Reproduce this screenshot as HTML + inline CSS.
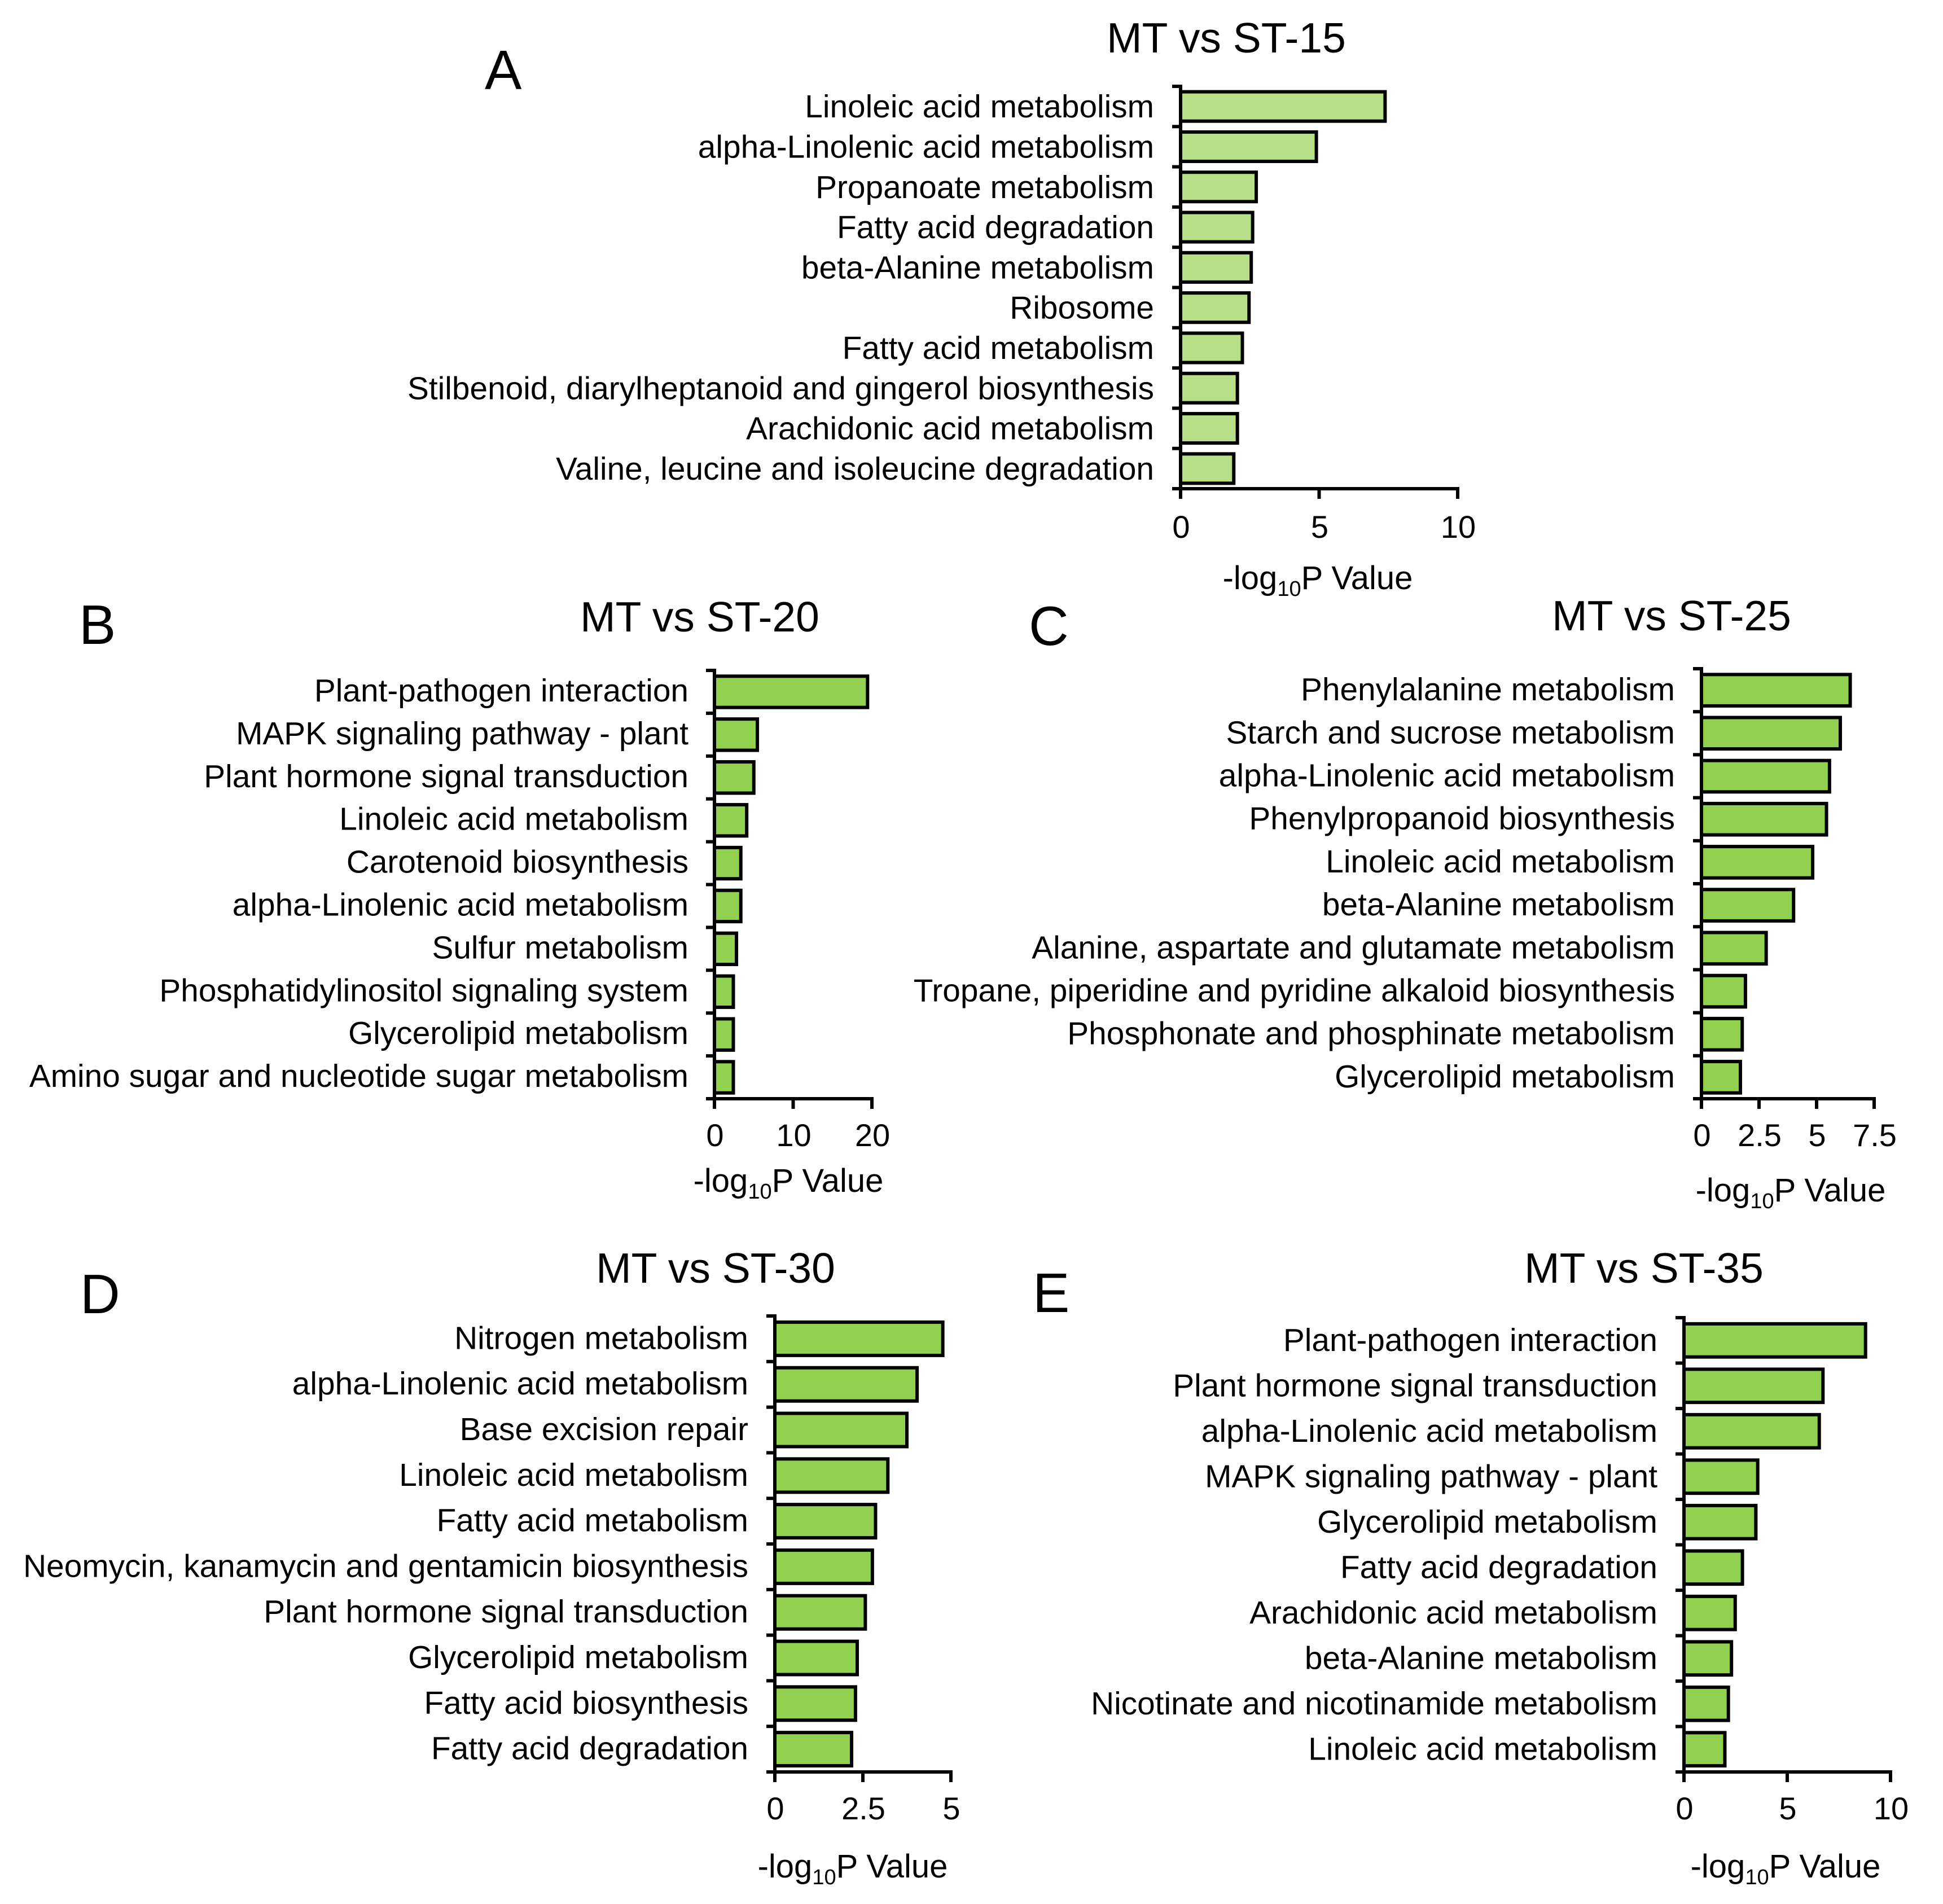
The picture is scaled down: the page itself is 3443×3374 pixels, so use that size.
<!DOCTYPE html>
<html lang="en">
<head>
<meta charset="utf-8">
<title>Pathway enrichment, MT vs ST</title>
<style>
html,body{margin:0;padding:0;background:#fff;}
body{width:3443px;height:3374px;overflow:hidden;}
svg{display:block;font-family:"Liberation Sans",Arial,sans-serif;fill:#000;}
</style>
</head>
<body>
<svg id="figure" xmlns="http://www.w3.org/2000/svg" width="3443" height="3374" viewBox="0 0 3443 3374"></svg>
<script>
const categoriesA = ["Linoleic acid metabolism","alpha-Linolenic acid metabolism","Propanoate metabolism","Fatty acid degradation","beta-Alanine metabolism","Ribosome","Fatty acid metabolism","Stilbenoid, diarylheptanoid and gingerol biosynthesis","Arachidonic acid metabolism","Valine, leucine and isoleucine degradation"];
const valuesA = [7.38,4.9,2.73,2.6,2.55,2.47,2.23,2.05,2.05,1.92];
const ticksA = [0,5,10];

const categoriesB = ["Plant-pathogen interaction","MAPK signaling pathway - plant","Plant hormone signal transduction","Linoleic acid metabolism","Carotenoid biosynthesis","alpha-Linolenic acid metabolism","Sulfur metabolism","Phosphatidylinositol signaling system","Glycerolipid metabolism","Amino sugar and nucleotide sugar metabolism"];
const valuesB = [19.45,5.45,5.0,4.1,3.35,3.35,2.8,2.4,2.4,2.4];
const ticksB = [0,10,20];

const categoriesC = ["Phenylalanine metabolism","Starch and sucrose metabolism","alpha-Linolenic acid metabolism","Phenylpropanoid biosynthesis","Linoleic acid metabolism","beta-Alanine metabolism","Alanine, aspartate and glutamate metabolism","Tropane, piperidine and pyridine alkaloid biosynthesis","Phosphonate and phosphinate metabolism","Glycerolipid metabolism"];
const valuesC = [6.46,6.03,5.56,5.43,4.83,4.0,2.81,1.91,1.77,1.69];
const ticksC = [0,2.5,5,7.5];

const categoriesD = ["Nitrogen metabolism","alpha-Linolenic acid metabolism","Base excision repair","Linoleic acid metabolism","Fatty acid metabolism","Neomycin, kanamycin and gentamicin biosynthesis","Plant hormone signal transduction","Glycerolipid metabolism","Fatty acid biosynthesis","Fatty acid degradation"];
const valuesD = [4.77,4.04,3.75,3.21,2.86,2.77,2.57,2.34,2.29,2.18];
const ticksD = [0,2.5,5];

const categoriesE = ["Plant-pathogen interaction","Plant hormone signal transduction","alpha-Linolenic acid metabolism","MAPK signaling pathway - plant","Glycerolipid metabolism","Fatty acid degradation","Arachidonic acid metabolism","beta-Alanine metabolism","Nicotinate and nicotinamide metabolism","Linoleic acid metabolism"];
const valuesE = [8.79,6.73,6.55,3.57,3.48,2.83,2.48,2.30,2.15,1.98];
const ticksE = [0,5,10];

const SVGNS = "http://www.w3.org/2000/svg";
const root = document.getElementById("figure");
const LABEL_SIZE = 56.8, AXIS_TITLE_SIZE = 58, TICK_SIZE = 56, TITLE_SIZE = 75, LETTER_SIZE = 98, STROKE = 6;

function shape(parent, tag, attrs) {
  const el = document.createElementNS(SVGNS, tag);
  for (const k in attrs) el.setAttribute(k, attrs[k]);
  parent.appendChild(el);
  return el;
}

function drawPanel(p) {
  const g = shape(root, "g", {});
  
  

  const xMax = p.ticks[p.ticks.length - 1];
  const xScale = v => p.x0 + (v / xMax) * (p.x1 - p.x0);
  const band = (p.yBottom - p.yTop) / p.categories.length;
  const yBand = i => p.yTop + band * (i + 0.5);
  const barH = band * 0.73;

  const letter = shape(g, "text", {x: p.letterX, y: p.letterY, "font-size": LETTER_SIZE});
  letter.textContent = p.letter;
  
  

  const title = shape(g, "text", {x: p.titleX, y: p.titleY, "font-size": TITLE_SIZE, "text-anchor": "middle"});
  title.textContent = p.title;
  
  

  p.values.forEach((v, i) => {
    const bar = shape(g, "rect", {
      x: xScale(0), y: yBand(i) - barH / 2,
      width: xScale(v) - xScale(0), height: barH,
      fill: p.fill, stroke: "#000", "stroke-width": STROKE
    });
    
    

    const label = shape(g, "text", {
      x: p.x0 - p.labelGap, y: yBand(i) + p.labelDy,
      "font-size": LABEL_SIZE, "text-anchor": "end"
    });
    label.textContent = p.categories[i];
    
    
  });

  const yAxis = shape(g, "line", {x1: p.x0, x2: p.x0, y1: p.yTop - STROKE / 2, y2: p.yBottom + 18, stroke: "#000", "stroke-width": STROKE});
  
  

  for (let i = 0; i <= p.categories.length; i++) {
    const y = p.yTop + band * i;
    const tick = shape(g, "line", {x1: p.x0 - 15, x2: p.x0, y1: y, y2: y, stroke: "#000", "stroke-width": STROKE});
    
    
  }

  const xAxis = shape(g, "line", {x1: p.x0, x2: xScale(xMax) + STROKE / 2, y1: p.yBottom, y2: p.yBottom, stroke: "#000", "stroke-width": STROKE});
  
  

  p.ticks.forEach(t => {
    const tick = shape(g, "line", {x1: xScale(t), x2: xScale(t), y1: p.yBottom, y2: p.yBottom + 18, stroke: "#000", "stroke-width": STROKE});
    
    

    const tl = shape(g, "text", {x: xScale(t) + 1, y: p.tickY, "font-size": TICK_SIZE, "text-anchor": "middle"});
    tl.textContent = String(t);
    
    
  });

  const axisTitle = shape(g, "text", {x: p.axisTitleX, y: p.axisTitleY, "font-size": AXIS_TITLE_SIZE, "text-anchor": "middle"});
  
  
  const a = shape(axisTitle, "tspan", {});
  a.textContent = "-log";
  const b = shape(axisTitle, "tspan", {"font-size": 38, dy: 12});
  b.textContent = "10";
  const c = shape(axisTitle, "tspan", {dy: -12});
  c.textContent = "P Value";
}

drawPanel({letter:"A", title:"MT vs ST-15", categories:categoriesA, values:valuesA, ticks:ticksA, fill:"#b6df88",
  x0:2092, x1:2583, yTop:153, yBottom:866, labelGap:47, labelDy:19.5,
  letterX:859, letterY:158, titleX:2173, titleY:93, tickY:953, axisTitleX:2335, axisTitleY:1044});
drawPanel({letter:"B", title:"MT vs ST-20", categories:categoriesB, values:valuesB, ticks:ticksB, fill:"#92d14f",
  x0:1266, x1:1545, yTop:1188, yBottom:1947, labelGap:46, labelDy:17,
  letterX:140, letterY:1141, titleX:1240, titleY:1119, tickY:2031, axisTitleX:1397, axisTitleY:2112});
drawPanel({letter:"C", title:"MT vs ST-25", categories:categoriesC, values:valuesC, ticks:ticksC, fill:"#92d14f",
  x0:3015, x1:3321, yTop:1185, yBottom:1947, labelGap:47, labelDy:18,
  letterX:1823, letterY:1143, titleX:2962, titleY:1117, tickY:2031, axisTitleX:3173, axisTitleY:2129});
drawPanel({letter:"D", title:"MT vs ST-30", categories:categoriesD, values:valuesD, ticks:ticksD, fill:"#92d14f",
  x0:1373, x1:1685, yTop:2332, yBottom:3140, labelGap:47, labelDy:18,
  letterX:142, letterY:2327, titleX:1268, titleY:2273, tickY:3224, axisTitleX:1511, axisTitleY:3327});
drawPanel({letter:"E", title:"MT vs ST-35", categories:categoriesE, values:valuesE, ticks:ticksE, fill:"#92d14f",
  x0:2984, x1:3350, yTop:2335, yBottom:3140, labelGap:47, labelDy:18.5,
  letterX:1830, letterY:2325, titleX:2913, titleY:2273, tickY:3224, axisTitleX:3164, axisTitleY:3327});
</script>
</body>
</html>
